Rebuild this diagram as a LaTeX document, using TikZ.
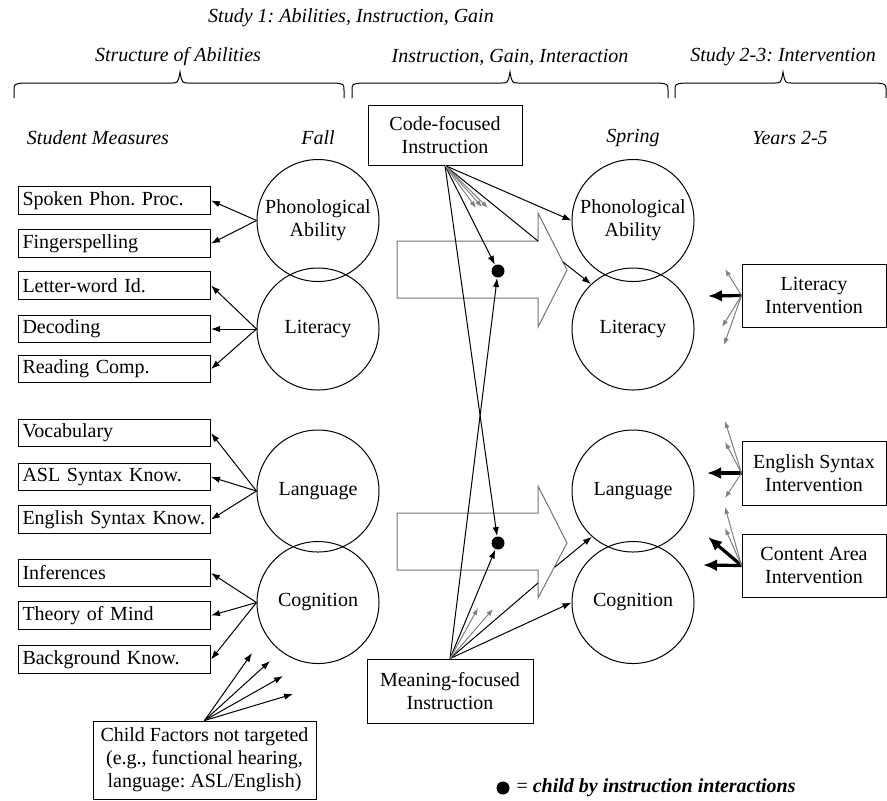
\documentclass[tikz,border=0pt]{standalone}
\usepackage{fontspec}
\setmainfont{Liberation Serif}
\frenchspacing
\usetikzlibrary{arrows.meta,positioning}
\newcommand \mybrace[3]
{
\draw (#1,98)--(#1,91) .. controls (#1,84) .. (#1+9,83)--(#2-9,83) .. controls (#2-2,83) .. (#2,72)
      .. controls (#2+2,83) .. (#2+9,83)--(#3-9,83) .. controls (#3,84) .. (#3,91)--(#3,98);
}
\tikzset{
  measure/.style={draw, rectangle, text width=92pt, inner xsep=2pt, inner ysep=0pt, minimum height=13.75pt, align=left},
  factor/.style={draw, circle, minimum size=61pt, inner sep=0pt, align=center},
  instr/.style={draw, rectangle, inner sep=0pt, align=center},
  head/.style={font=\fontsize{10}{11.5}\selectfont\itshape},
  dot/.style={fill, circle, minimum size=6.5pt, inner sep=0pt},
  grayarr/.style={-{Latex[length=3.5pt,width=2.6pt]}, gray},
  thickarr/.style={-{Latex[length=7pt,width=6pt]}, line width=1.6pt},
}
\begin{document}
\begin{tikzpicture}[x=0.5pt, y=-0.5pt, line width=0.5pt, >={Latex[length=4.5pt,width=3.2pt]}, font=\fontsize{10}{11.5}\selectfont]
\useasboundingbox (0,0) rectangle (887,800);
% headings
\node[head] (study1)    at (351,18)  {Study 1: Abilities, Instruction, Gain};
\node[head] (structure) at (178,57)  {Structure of Abilities};
\node[head] (gainhead)  at (510,57)  {Instruction, Gain, Interaction};
\node[head] (study23)   at (783,57)  {Study 2-3: Intervention};
\mybrace{14}{180}{344}
\mybrace{352}{510}{668}
\mybrace{675}{783}{886}
\node[head] (studentm)  at (98,138)  {Student Measures};
\node[head] (fall)      at (318,138) {Fall};
\node[head] (spring)    at (633,138) {Spring};
\node[head] (years)     at (790,138) {Years 2-5};
% student measures
\node[measure] (spoken)  at (114.5,200.5) {Spoken Phon. Proc.};
\node[measure] (finger)  at (114.5,243.5) {Fingerspelling};
\node[measure] (letter)  at (114.5,285.5) {Letter-word Id.};
\node[measure] (decode)  at (114.5,329)   {Decoding};
\node[measure] (reading) at (114.5,369)   {Reading Comp.};
\node[measure] (vocab)   at (114.5,433)   {Vocabulary};
\node[measure] (asl)     at (114.5,477)   {ASL Syntax Know.};
\node[measure] (engsyn)  at (114.5,519.5) {English Syntax Know.};
\node[measure] (infer)   at (114.5,573)   {Inferences};
\node[measure] (tom)     at (114.5,615.5) {Theory of Mind};
\node[measure] (backg)   at (114.5,659.5) {Background Know.};
% abilities, fall and spring
\node[factor] (fphon) at (318,220.5) {Phonological\\Ability};
\node[factor] (flit)  at (318,329)   {Literacy};
\node[factor] (flang) at (318,491)   {Language};
\node[factor] (fcog)  at (318,602.5) {Cognition};
\node[factor] (sphon) at (633,220.5) {Phonological\\Ability};
\node[factor] (slit)  at (633,329)   {Literacy};
\node[factor] (slang) at (633,491)   {Language};
\node[factor] (scog)  at (633,602.5) {Cognition};
% instruction and intervention boxes
\node[instr, minimum width=77pt, minimum height=30pt] (code)    at (445,135)   {Code-focused\\Instruction};
\node[instr, minimum width=83pt, minimum height=32pt] (meaning) at (450,691)   {Meaning-focused\\Instruction};
\node[instr, minimum width=72pt, minimum height=31.5pt] (litint) at (814,295.5) {Literacy\\Intervention};
\node[instr, minimum width=72pt, minimum height=32pt]   (synint) at (814,473)   {English Syntax\\Intervention};
\node[instr, minimum width=72pt, minimum height=31.5pt] (conint) at (814,565.5) {Content Area\\Intervention};
\node[instr, minimum width=111.5pt, minimum height=39pt] (child) at (204.5,760) {Child Factors not targeted\\(e.g., functional hearing,\\language: ASL/English)};
% gain arrows
\draw[black!55] (397,241)--(538,241)--(538,213)--(567,270)--(538,327)--(538,298)--(397,298)--cycle;
\draw[black!55] (397,513)--(538,513)--(538,486)--(567,543)--(538,598)--(538,570)--(397,570)--cycle;
\node[dot] (dotA) at (498,271) {};
\node[dot] (dotB) at (498,543) {};
\coordinate (gainAcorner) at (538,241);
\coordinate (gainAedge)   at (563,262);
\coordinate (gainBcorner) at (538,583);
\coordinate (gainBedge)   at (555,567);
\coordinate (codeg1) at (476,208);
\coordinate (codeg2) at (482,207);
\coordinate (codeg3) at (488,208);
\coordinate (meang1) at (478,608);
\coordinate (meang2) at (493,609);
\coordinate (litt1)  at (708,296);
\coordinate (litg1)  at (725,269);
\coordinate (litg2)  at (722,327);
\coordinate (litg3)  at (724,345);
\coordinate (synt1)  at (707,473);
\coordinate (syng1)  at (725,421);
\coordinate (syng2)  at (725,442);
\coordinate (syng3)  at (725,498);
\coordinate (cont1)  at (703,565);
\coordinate (cont2)  at (708,537);
\coordinate (cong1)  at (725,507);
\coordinate (cong2)  at (725,528);
\coordinate (ch1)    at (252,653);
\coordinate (ch2)    at (270,661);
\coordinate (ch3)    at (283,676);
\coordinate (ch4)    at (293,694);
% measurement arrows
\draw[->] (fphon.west)--(spoken.east);
\draw[->] (fphon.west)--(finger.east);
\draw[->] (flit.west)--(letter.east);
\draw[->] (flit.west)--(decode.east);
\draw[->] (flit.west)--(reading.east);
\draw[->] (flang.west)--(vocab.east);
\draw[->] (flang.west)--(asl.east);
\draw[->] (flang.west)--(engsyn.east);
\draw[->] (fcog.west)--(infer.east);
\draw[->] (fcog.west)--(tom.east);
\draw[->] (fcog.west)--(backg.east);
% instruction arrows
\draw[->] (code.south)--(sphon.west);
\draw     (code.south)--(gainAcorner);
\draw[->] (code.south)--(dotA);
\draw[->] (code.south)--(dotB);
\draw[grayarr] (code.south)--(codeg1);
\draw[grayarr] (code.south)--(codeg2);
\draw[grayarr] (code.south)--(codeg3);
\draw[->] (meaning.north)--(scog.west);
\draw     (meaning.north)--(gainBcorner);
\draw[->] (meaning.north)--(dotA);
\draw[->] (meaning.north)--(dotB);
\draw[grayarr] (meaning.north)--(meang1);
\draw[grayarr] (meaning.north)--(meang2);
\draw[->] (gainAedge)--(slit.133);
\draw[->] (gainBedge)--(slang.228);
% intervention arrows
\draw[thickarr] (litint.west)--(litt1);
\draw[grayarr]  (litint.west)--(litg1);
\draw[grayarr]  (litint.west)--(litg2);
\draw[grayarr]  (litint.west)--(litg3);
\draw[thickarr] (synint.west)--(synt1);
\draw[grayarr]  (synint.west)--(syng1);
\draw[grayarr]  (synint.west)--(syng2);
\draw[grayarr]  (synint.west)--(syng3);
\draw[thickarr] (conint.west)--(cont1);
\draw[thickarr] (conint.west)--(cont2);
\draw[grayarr]  (conint.west)--(cong1);
\draw[grayarr]  (conint.west)--(cong2);
% child factors
\draw[->] (child.north)--(ch1);
\draw[->] (child.north)--(ch2);
\draw[->] (child.north)--(ch3);
\draw[->] (child.north)--(ch4);
% legend
\node[dot] (legdot) at (503,788) {};
\node[right=3pt of legdot, inner sep=0pt] (legtext) {= \textbf{\textit{child by instruction interactions}}};
\end{tikzpicture}
\end{document}
